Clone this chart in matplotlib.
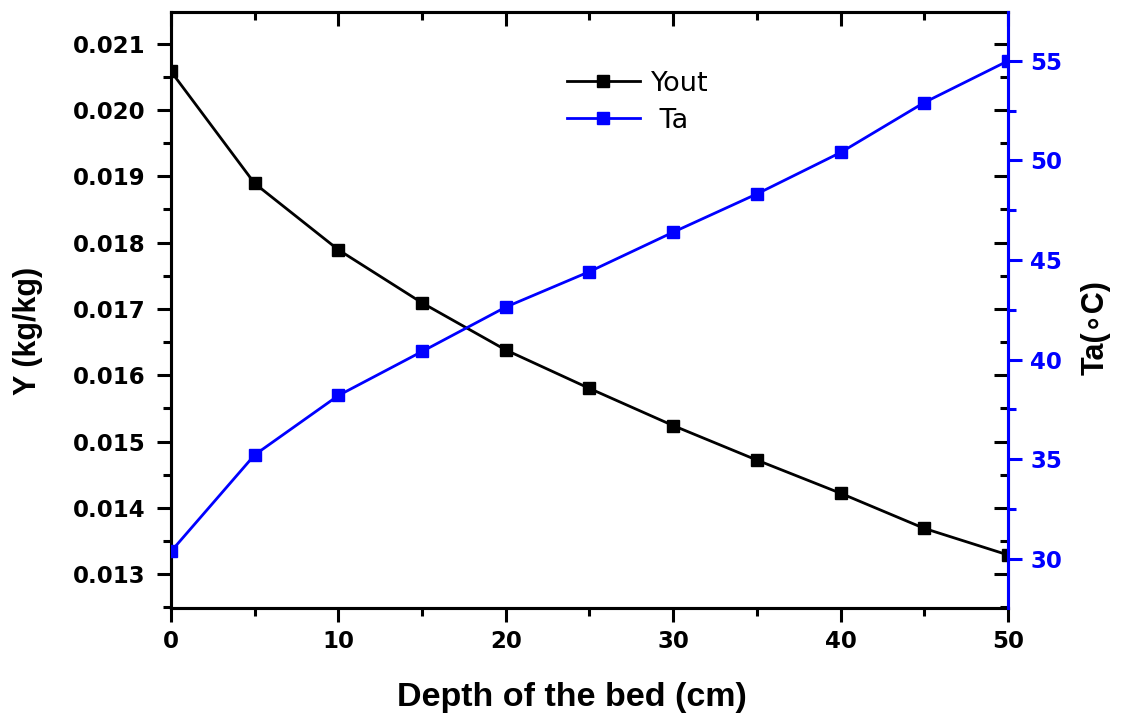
import matplotlib.pyplot as plt
from matplotlib.ticker import MultipleLocator, FormatStrFormatter

plt.rcParams['font.family'] = ['Liberation Sans', 'DejaVu Sans']

depth = [0, 5, 10, 15, 20, 25, 30, 35, 40, 45, 50]
y_out = [0.02058, 0.01889, 0.01789, 0.01709, 0.01638, 0.01580,
         0.01524, 0.01472, 0.01422, 0.01369, 0.01329]
t_a = [30.37, 35.22, 38.20, 40.41, 42.64, 44.42,
       46.40, 48.32, 50.40, 52.91, 55.0]

blue = '#0000FF'
lw_axis = 2.2
tick_font = dict(family='DejaVu Sans', weight='bold', size=16.5)

fig = plt.figure(figsize=(11.22, 7.21), dpi=100)
ax = fig.add_axes([0.1524, 0.1567, 0.7460, 0.8271])
ax2 = ax.twinx()

l1, = ax.plot(depth, y_out, color='black', lw=2.0, marker='s', ms=8,
              label='Yout', zorder=3)
l2, = ax2.plot(depth, t_a, color=blue, lw=2.0, marker='s', ms=8,
               label=' Ta', zorder=3)

ax.set_xlim(0, 50)
ax.set_ylim(0.01249, 0.02148)
ax2.set_ylim(27.53, 57.47)

# left / bottom axes: ticks outward
ax.xaxis.set_major_locator(MultipleLocator(10))
ax.xaxis.set_minor_locator(MultipleLocator(5))
ax.yaxis.set_major_locator(MultipleLocator(0.001))
ax.yaxis.set_minor_locator(MultipleLocator(0.0005))
ax.yaxis.set_major_formatter(FormatStrFormatter('%.3f'))
ax.tick_params(which='both', direction='out', width=lw_axis, right=False, top=False)
ax.tick_params(which='major', length=10)
ax.tick_params(which='minor', length=5.5)
ax.tick_params(axis='x', which='major', pad=6)
ax.tick_params(axis='y', which='major', pad=8)
for lab in ax.get_xticklabels() + ax.get_yticklabels():
    lab.set_fontproperties(tick_font)

# mirrored ticks pointing inward on top and right
top = ax.secondary_xaxis('top')
top.xaxis.set_major_locator(MultipleLocator(10))
top.xaxis.set_minor_locator(MultipleLocator(5))
top.tick_params(which='both', direction='in', width=lw_axis, labeltop=False)
top.tick_params(which='major', length=10)
top.tick_params(which='minor', length=5.5)
top.spines['top'].set_visible(False)

mir = ax.secondary_yaxis('right')
mir.yaxis.set_major_locator(MultipleLocator(0.001))
mir.yaxis.set_minor_locator(MultipleLocator(0.0005))
mir.tick_params(which='both', direction='in', width=lw_axis, labelright=False)
mir.tick_params(which='major', length=10)
mir.tick_params(which='minor', length=5.5)
mir.spines['right'].set_visible(False)

# right axis in blue
ax2.yaxis.set_major_locator(MultipleLocator(5))
ax2.yaxis.set_minor_locator(MultipleLocator(2.5))
ax2.tick_params(which='both', direction='out', width=lw_axis, color=blue,
                labelcolor=blue)
ax2.tick_params(which='major', length=10, pad=6)
ax2.tick_params(which='minor', length=5.5)
for lab in ax2.get_yticklabels():
    lab.set_fontproperties(tick_font)

for s in ax.spines.values():
    s.set_linewidth(lw_axis)
for s in ax2.spines.values():
    s.set_linewidth(lw_axis)
ax2.spines['right'].set_color(blue)
ax2.spines['right'].set_zorder(5)

ax.set_xlabel('Depth of the bed (cm)', fontsize=24.5, fontweight='bold')
ax.xaxis.set_label_coords(0.4785, -0.150)
ax.xaxis.label.set_va('center')
ax.set_ylabel('Y (kg/kg)', fontsize=22, fontweight='bold')
ax.yaxis.set_label_coords(-0.1714, 0.464)
ax.yaxis.label.set_va('center')
ax2.set_ylabel('Ta(\u2218C)', fontsize=22, fontweight='bold', rotation=90)
ax2.yaxis.set_label_coords(1.105, 0.4696)
ax2.yaxis.label.set_va('center')

ax.legend([l1, l2], ['Yout', ' Ta'], loc='upper left',
          bbox_to_anchor=(0.473, 0.9006), frameon=False,
          prop=dict(family='DejaVu Sans', size=19.5),
          handlelength=2.7, handletextpad=0.42, labelspacing=0.4,
          borderpad=0, borderaxespad=0)

fig.savefig('out.png', dpi=100)
